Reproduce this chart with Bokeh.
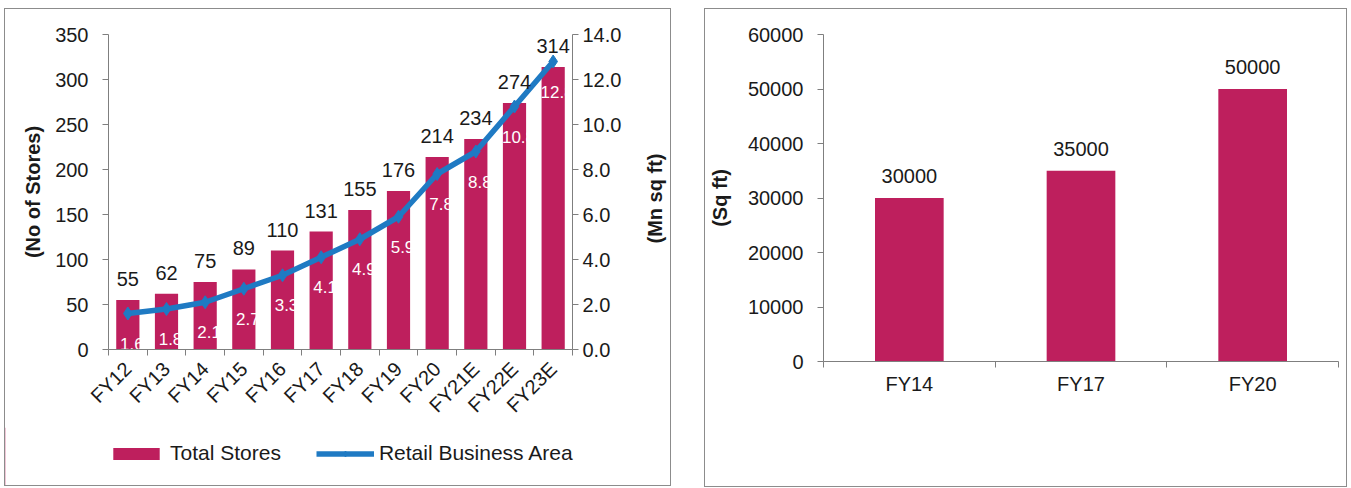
from math import pi
from bokeh.plotting import figure
from bokeh.models import (ColumnDataSource, Range1d, LinearAxis, FixedTicker,
                          NumeralTickFormatter, Legend, LegendItem, Label)
from bokeh.layouts import row, column
from bokeh.embed import file_html
from bokeh.resources import INLINE
from bokeh.core.properties import value

# ---------------- data ----------------
categories = ["FY12", "FY13", "FY14", "FY15", "FY16", "FY17", "FY18", "FY19",
              "FY20", "FY21E", "FY22E", "FY23E"]
total_stores = [55, 62, 75, 89, 110, 131, 155, 176, 214, 234, 274, 314]
retail_area = [1.6, 1.8, 2.1, 2.7, 3.3, 4.1, 4.9, 5.9, 7.8, 8.8, 10.8, 12.8]
store_ticks = [0, 50, 100, 150, 200, 250, 300, 350]
area_ticks = [0, 2, 4, 6, 8, 10, 12, 14]

size_years = ["FY14", "FY17", "FY20"]
store_size = [30000, 35000, 50000]
size_ticks = [0, 10000, 20000, 30000, 40000, 50000, 60000]

FONT = "Liberation Sans"
BAR = "#BE1F5D"
LINE = "#1F7AC3"
AX = "#7F7F7F"
TXT = "#1a1a1a"
BORDER = {"border": "1px solid #8c8c8c", "box-sizing": "border-box"}


def style_axis(ax, size="20px"):
    ax.axis_line_color = AX
    ax.major_tick_line_color = AX
    ax.minor_tick_line_color = None
    ax.major_tick_out = 6
    ax.major_tick_in = 0
    ax.major_label_text_font = FONT
    ax.major_label_text_font_size = size
    ax.major_label_text_color = TXT
    ax.axis_label_text_font = FONT
    ax.axis_label_text_font_size = "20px"
    ax.axis_label_text_font_style = "bold"
    ax.axis_label_text_color = TXT


def blank(width, height, **kw):
    f = figure(width=width, height=height, x_range=Range1d(0, 1), y_range=Range1d(0, 1),
               x_axis_location=None, y_axis_location=None, min_border=0,
               output_backend="svg", toolbar_location=None, **kw)
    f.grid.visible = False
    f.outline_line_color = None
    return f


# ---------------- left chart ----------------
n = len(categories)
xs = list(range(n))
src = ColumnDataSource(dict(
    x=xs, stores=total_stores, area=retail_area,
    store_lbl=[str(v) for v in total_stores],
    area_lbl=[f"{v:.1f}" for v in retail_area],
))

p1 = figure(x_range=Range1d(-0.5, n - 0.5), y_range=Range1d(0, 350),
            frame_width=464, frame_height=315,
            min_border_left=103, min_border_right=69,
            min_border_top=25, min_border_bottom=77,
            output_backend="svg", toolbar_location=None)
p1.xgrid.visible = False
p1.ygrid.visible = False
p1.outline_line_color = None
p1.extra_y_ranges = {"area": Range1d(0, 14)}

bars = p1.vbar(x="x", top="stores", width=0.6, source=src,
               fill_color=BAR, line_color=None)
p1.text(x="x", y="area", text="area_lbl", source=src, y_range_name="area",
        text_align="center", text_baseline="middle", x_offset=4, y_offset=30,
        text_font=value(FONT), text_font_size="17px", text_color="white")
p1.line(x="x", y="area", source=src, y_range_name="area",
        line_color=LINE, line_width=5.5)
p1.scatter(x="x", y="area", source=src, y_range_name="area",
           marker="diamond", size=13, fill_color=LINE, line_color=LINE)
p1.text(x="x", y="stores", text="store_lbl", source=src,
        text_align="center", text_baseline="bottom", y_offset=-14,
        text_font=value(FONT), text_font_size="20px", text_color=TXT)

xa = p1.xaxis[0]
style_axis(xa, "20px")
xa.ticker = FixedTicker(ticks=xs, minor_ticks=[i - 0.5 for i in range(n + 1)])
xa.major_label_overrides = {i: c for i, c in enumerate(categories)}
xa.major_label_orientation = pi / 4
xa.major_tick_line_color = None
xa.minor_tick_line_color = AX
xa.minor_tick_out = 6
xa.minor_tick_in = 0
xa.major_label_standoff = 10

ya = p1.yaxis[0]
style_axis(ya)
ya.ticker = FixedTicker(ticks=store_ticks)
ya.axis_label = "(No of Stores)"
ya.major_label_standoff = 14
ya.axis_label_standoff = 8

ra = LinearAxis(y_range_name="area", ticker=FixedTicker(ticks=area_ticks),
                formatter=NumeralTickFormatter(format="0.0"))
style_axis(ra)
ra.major_label_standoff = 4
p1.add_layout(ra, "right")

# right axis title (reads bottom-to-top) in a narrow strip
ptitle = blank(29, 417)
ptitle.add_layout(Label(x=13, y=150, x_units="screen", y_units="screen",
                        text="(Mn sq ft)", angle=pi / 2, text_align="center",
                        text_baseline="middle", text_font=FONT,
                        text_font_size="20px", text_font_style="bold",
                        text_color=TXT))

# legend strip
pleg = blank(660, 58)
leg_bar = pleg.vbar(x=[-10], top=[1], width=0.6, fill_color=BAR, line_color=None)
leg_line = pleg.line(x=[-10, -9], y=[0.5, 0.5], line_color=LINE, line_width=5.5)
leg_mk = pleg.scatter(x=[-10], y=[0.5], marker="diamond", size=13,
                      fill_color=LINE, line_color=LINE)
legend = Legend(items=[LegendItem(label="Total Stores", renderers=[leg_bar]),
                       LegendItem(label="Retail Business Area",
                                  renderers=[leg_line, leg_mk])],
                location=(102, 20), orientation="horizontal",
                padding=0, margin=0, spacing=35, label_standoff=5,
                glyph_width=58, glyph_height=15, label_height=22,
                label_text_font=FONT, label_text_font_size="21px",
                label_text_color=TXT, border_line_color=None,
                background_fill_alpha=0)
pleg.add_layout(legend, "center")

left_panel = column(row(p1, ptitle), pleg, styles=BORDER, margin=(8, 0, 0, 4))

# ---------------- right chart ----------------
m = len(size_years)
src2 = ColumnDataSource(dict(x=list(range(m)), size=store_size,
                             lbl=[str(v) for v in store_size]))

p2 = figure(x_range=Range1d(-0.5, m - 0.5), y_range=Range1d(0, 60000),
            frame_width=513, frame_height=325,
            min_border_left=116, min_border_right=10,
            min_border_top=25, min_border_bottom=127,
            output_backend="svg", toolbar_location=None,
            margin=(8, 0, 0, 33), styles=BORDER)
p2.xgrid.visible = False
p2.ygrid.visible = False
p2.outline_line_color = None

p2.vbar(x="x", top="size", width=0.4, source=src2, fill_color=BAR, line_color=None)
p2.text(x="x", y="size", text="lbl", source=src2, text_align="center",
        text_baseline="bottom", y_offset=-15, text_font=value(FONT),
        text_font_size="20px", text_color=TXT)

xb = p2.xaxis[0]
style_axis(xb)
xb.ticker = FixedTicker(ticks=list(range(m)),
                        minor_ticks=[i - 0.5 for i in range(m + 1)])
xb.major_label_overrides = {i: c for i, c in enumerate(size_years)}
xb.major_tick_line_color = None
xb.minor_tick_line_color = AX
xb.minor_tick_out = 6
xb.minor_tick_in = 0
xb.major_label_standoff = 5

yb = p2.yaxis[0]
style_axis(yb)
yb.ticker = FixedTicker(ticks=size_ticks)
yb.formatter = NumeralTickFormatter(format="0")
yb.axis_label = "(Sq ft)"
yb.major_label_standoff = 14
yb.axis_label_standoff = 14

layout = row(left_panel, p2)
open("out.html", "w").write(file_html(layout, INLINE))
